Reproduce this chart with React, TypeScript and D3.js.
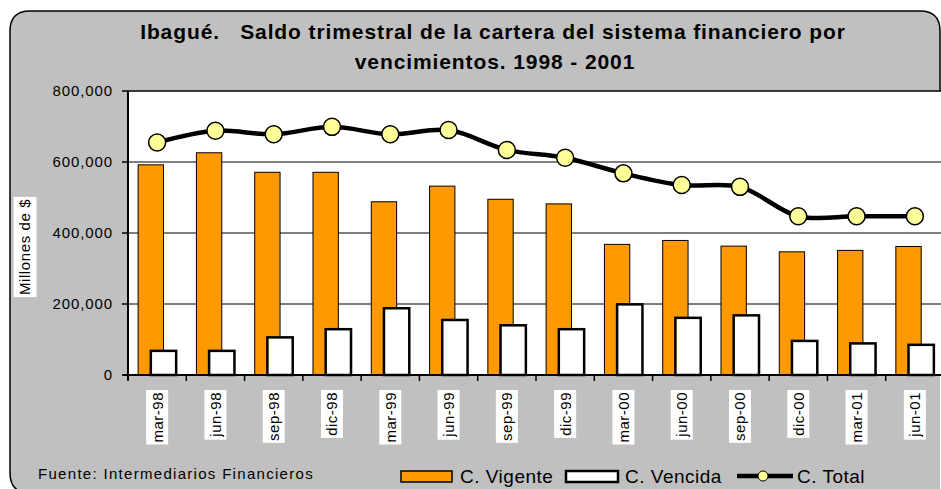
import React, { useEffect, useRef } from 'react'
import * as d3 from 'd3'

// quarterly data, millones de $
const categories = ['mar-98', 'jun-98', 'sep-98', 'dic-98', 'mar-99', 'jun-99', 'sep-99', 'dic-99', 'mar-00', 'jun-00', 'sep-00', 'dic-00', 'mar-01', 'jun-01']
const vigente = [592000, 626000, 571000, 571000, 488000, 532000, 495000, 482000, 368000, 379000, 363000, 347000, 351000, 362000]
const vencida = [68000, 68000, 106000, 129000, 188000, 155000, 140000, 129000, 199000, 161000, 168000, 96000, 89000, 85000]
const total = [655000, 688000, 678000, 699000, 678000, 690000, 634000, 612000, 568000, 535000, 530000, 447000, 447000, 447000]
const yTicks = [0, 200000, 400000, 600000, 800000]

const FONT = "'Liberation Sans', Arial, sans-serif"

export default function App() {
  const ref = useRef<SVGSVGElement>(null)

  useEffect(() => {
    const width = 941
    const height = 489
    const left = 128, top = 91, bottom = 375
    const right = 944

    const svg = d3.select(ref.current)
    svg.selectAll('*').remove()

    // outer frame: fill, then the visible edges only (right side is hidden under the plot)
    svg.append('path')
      .attr('d', 'M10,472 L10,31 Q10,11 30,11 L920,11 Q940,11 940,31 L940,492 L30,492 Q10,492 10,472 Z')
      .attr('fill', '#c0c0c0')
    svg.append('path')
      .attr('d', 'M30,493 Q10,493 10,473 L10,31 Q10,11 30,11 L920,11 Q940,11 940,31 L940,91')
      .attr('fill', 'none')
      .attr('stroke', '#000')
      .attr('stroke-width', 1.5)

    // title
    const title = svg.append('text')
      .attr('font-family', FONT)
      .attr('font-weight', 'bold')
      .attr('font-size', 21)
      .attr('letter-spacing', 0.9)
      .attr('text-anchor', 'middle')
      .attr('fill', '#000')
    title.append('tspan').attr('x', 493).attr('y', 39).attr('xml:space', 'preserve')
      .text('Ibagué.   Saldo trimestral de la cartera del sistema financiero por')
    title.append('tspan').attr('x', 495).attr('y', 69).text('vencimientos. 1998 - 2001')

    var x = d3.scaleBand().domain(categories).range([left, right]).padding(0)
    var y = d3.scaleLinear().domain([0, 800000]).range([bottom, top])
    var step = x.step()
    var barW = step / 2.3
    var gap = barW * 0.8

    // plot area
    svg.append('rect')
      .attr('x', left).attr('y', top)
      .attr('width', right - left).attr('height', bottom - top)
      .attr('fill', '#fff')

    // gridlines
    svg.selectAll('.grid')
      .data(yTicks.filter(d => d > 0 && d < 800000))
      .enter().append('line')
      .attr('x1', left).attr('x2', right)
      .attr('y1', d => y(d)).attr('y2', d => y(d))
      .attr('stroke', '#000').attr('stroke-width', 1)

    svg.append('line')
      .attr('x1', left).attr('x2', right)
      .attr('y1', top).attr('y2', top)
      .attr('stroke', '#000').attr('stroke-width', 1.5)

    // bars
    svg.selectAll('.vig')
      .data(vigente)
      .enter().append('rect')
      .attr('x', (d, i) => (x(categories[i]) as number) + gap / 2)
      .attr('y', d => y(d))
      .attr('width', barW)
      .attr('height', d => bottom - y(d))
      .attr('fill', '#ff9900')
      .attr('stroke', '#000').attr('stroke-width', 1)

    svg.selectAll('.ven')
      .data(vencida)
      .enter().append('rect')
      .attr('x', (d, i) => (x(categories[i]) as number) + gap / 2 + barW / 2)
      .attr('y', d => y(d))
      .attr('width', barW)
      .attr('height', d => bottom - y(d))
      .attr('fill', '#fff')
      .attr('stroke', '#000').attr('stroke-width', 2.5)

    // total line
    var line = d3.line<number>()
      .x((d, i) => (x(categories[i]) as number) + step / 2)
      .y(d => y(d))
      .curve(d3.curveCatmullRom.alpha(0.5))

    svg.append('path')
      .datum(total)
      .attr('d', line)
      .attr('fill', 'none')
      .attr('stroke', '#000')
      .attr('stroke-width', 4.5)

    svg.selectAll('.mk')
      .data(total)
      .enter().append('circle')
      .attr('cx', (d, i) => (x(categories[i]) as number) + step / 2)
      .attr('cy', d => y(d))
      .attr('r', 8.5)
      .attr('fill', '#ffff99')
      .attr('stroke', '#000').attr('stroke-width', 1.5)

    // axes
    svg.append('line')
      .attr('x1', left).attr('x2', left).attr('y1', top).attr('y2', bottom + 5)
      .attr('stroke', '#000').attr('stroke-width', 2)
    svg.append('line')
      .attr('x1', left - 5).attr('x2', right).attr('y1', bottom).attr('y2', bottom)
      .attr('stroke', '#000').attr('stroke-width', 2)

    svg.selectAll('.ytick')
      .data(yTicks)
      .enter().append('line')
      .attr('x1', left - 6).attr('x2', left)
      .attr('y1', d => y(d)).attr('y2', d => y(d))
      .attr('stroke', '#000').attr('stroke-width', 1.5)

    svg.selectAll('.ylab')
      .data(yTicks)
      .enter().append('text')
      .attr('x', 113)
      .attr('y', d => y(d))
      .attr('dy', '0.36em')
      .attr('text-anchor', 'end')
      .attr('font-family', FONT)
      .attr('font-size', 15)
      .attr('letter-spacing', 0.9)
      .text(d => d3.format(',')(d))

    svg.selectAll('.xtick')
      .data(d3.range(categories.length + 1))
      .enter().append('line')
      .attr('x1', i => left + i * step).attr('x2', i => left + i * step)
      .attr('y1', bottom).attr('y2', bottom + 6)
      .attr('stroke', '#000').attr('stroke-width', 1.5)

    // x labels, rotated with white boxes
    categories.forEach(c => {
      var g = svg.append('g')
        .attr('transform', 'translate(' + ((x(c) as number) + step / 2) + ',390) rotate(-90)')
      var t = g.append('text')
        .attr('x', -2).attr('y', 0)
        .attr('dy', '0.36em')
        .attr('text-anchor', 'end')
        .attr('font-family', FONT)
        .attr('font-size', 15)
        .attr('letter-spacing', 0.5)
        .text(c)
      var bb = (t.node() as SVGTextElement).getBBox()
      g.insert('rect', 'text')
        .attr('x', bb.x - 2).attr('y', -11)
        .attr('width', bb.width + 4).attr('height', 22)
        .attr('fill', '#fff')
    })

    // y title
    var yg = svg.append('g').attr('transform', 'translate(25,247) rotate(-90)')
    var yt = yg.append('text')
      .attr('text-anchor', 'middle')
      .attr('dy', '0.36em')
      .attr('font-family', FONT)
      .attr('font-size', 15)
      .attr('letter-spacing', 0.6)
      .text('Millones de $')
    var ybb = (yt.node() as SVGTextElement).getBBox()
    yg.insert('rect', 'text')
      .attr('x', ybb.x - 2).attr('y', -11.5)
      .attr('width', ybb.width + 4).attr('height', 23)
      .attr('fill', '#fff')

    // footer
    svg.append('text')
      .attr('x', 38).attr('y', 479)
      .attr('font-family', FONT)
      .attr('font-size', 15)
      .attr('letter-spacing', 1.3)
      .text('Fuente: Intermediarios Financieros')

    // legend
    var lg = svg.append('g').attr('font-family', FONT).attr('font-size', 19).attr('letter-spacing', 0.5)
    lg.append('rect').attr('x', 401).attr('y', 471).attr('width', 51).attr('height', 11)
      .attr('fill', '#ff9900').attr('stroke', '#000').attr('stroke-width', 1.5)
    lg.append('text').attr('x', 460).attr('y', 483).text('C. Vigente')
    lg.append('rect').attr('x', 566).attr('y', 471).attr('width', 52).attr('height', 11)
      .attr('fill', '#fff').attr('stroke', '#000').attr('stroke-width', 2.5)
    lg.append('text').attr('x', 625).attr('y', 483).text('C. Vencida')
    lg.append('line').attr('x1', 737).attr('x2', 793).attr('y1', 476).attr('y2', 476)
      .attr('stroke', '#000').attr('stroke-width', 4.5)
    lg.append('circle').attr('cx', 763).attr('cy', 476).attr('r', 5)
      .attr('fill', '#ffff99').attr('stroke', '#000').attr('stroke-width', 1)
    lg.append('text').attr('x', 797).attr('y', 483).text('C. Total')

    svg.attr('width', width).attr('height', height)
  }, [])

  return (
    <svg ref={ref} width={941} height={489}
      style={{ position: 'absolute', left: 0, top: 0, display: 'block', background: '#fff' }} />
  )
}
